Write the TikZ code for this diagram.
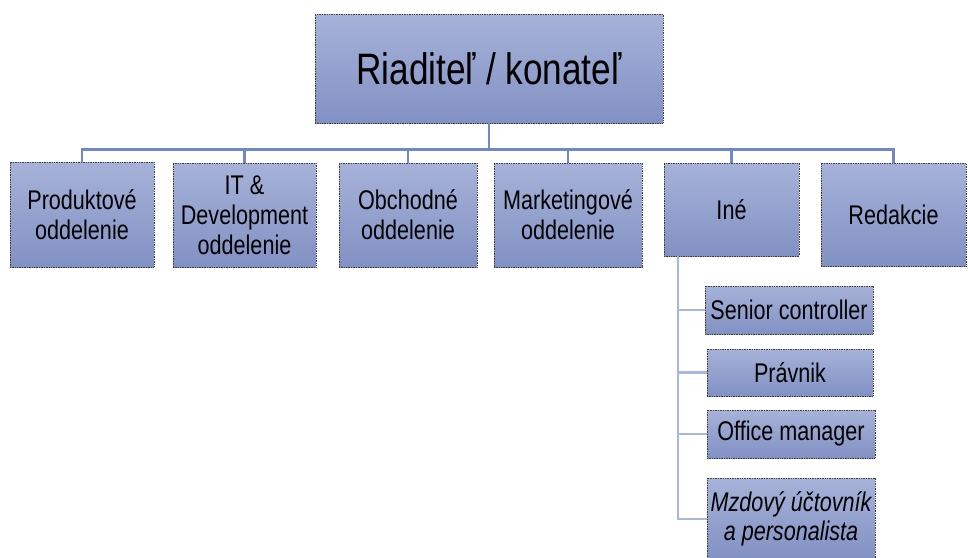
\documentclass[tikz,border=0pt]{standalone}
\usepackage{fontspec}
\setmainfont{Liberation Sans}[FakeStretch=0.8]
\usepackage{tikz}
\usetikzlibrary{positioning,calc}
\definecolor{boxtop}{RGB}{166,178,216}
\definecolor{boxbot}{RGB}{130,145,196}
\definecolor{linedark}{RGB}{112,136,202}
\definecolor{linelight}{RGB}{168,182,226}
\tikzstyle{unit}=[draw=black!75,densely dotted,line width=0.7pt,top color=boxtop,bottom color=boxbot,align=center,inner sep=2pt,font=\fontsize{27}{30}\selectfont]
\tikzstyle{conn}=[draw=linedark,line width=2.6pt]
\tikzstyle{subconn}=[draw=linelight,line width=2.6pt]

\begin{document}
\begin{tikzpicture}[x=1pt, y=-1pt]
	\useasboundingbox (0,0) rectangle (968,557);
	\node[unit, minimum width=348, minimum height=109, font=\fontsize{44}{48}\selectfont] (boss) at (489,68.5) {Riaditeľ / konateľ};
	\node[unit, minimum width=144, minimum height=105] (prod) at (82,214.5) {Produktové\\oddelenie};
	\node[unit, minimum width=143, minimum height=104] (it) at (244.5,215) {IT \&\\Development\\oddelenie};
	\node[unit, minimum width=138, minimum height=104] (obch) at (408,215) {Obchodné\\oddelenie};
	\node[unit, minimum width=148, minimum height=104] (mark) at (568,215) {Marketingové\\oddelenie};
	\node[unit, minimum width=135, minimum height=93] (ine) at (731.5,209.5) {Iné};
	\node[unit, minimum width=145, minimum height=103] (red) at (893.5,214.5) {Redakcie};
	\node[unit, minimum width=168, minimum height=48] (senior) at (789,310) {Senior controller};
	\node[unit, minimum width=166, minimum height=47] (pravnik) at (790,372.5) {Právnik};
	\node[unit, minimum width=168, minimum height=48] (office) at (791,434) {Office manager};
	\node[unit, minimum width=168, minimum height=82, font=\fontsize{27}{29}\selectfont\itshape] (mzdy) at (791,519) {Mzdový účtovník\\a personalista};
	\coordinate (stem) at (678,256);
	\draw[conn] (boss.south) -- ++(0,26) -| (prod.north);
	\draw[conn] (boss.south) -- ++(0,26) -| (it.north);
	\draw[conn] (boss.south) -- ++(0,26) -| (obch.north);
	\draw[conn] (boss.south) -- ++(0,26) -| (mark.north);
	\draw[conn] (boss.south) -- ++(0,26) -| (ine.north);
	\draw[conn] (boss.south) -- ++(0,26) -| (red.north);
	\draw[subconn] (stem) |- (senior.west);
	\draw[subconn] (stem) |- (pravnik.west);
	\draw[subconn] (stem) |- (office.west);
	\draw[subconn] (stem) |- (mzdy.west);
\end{tikzpicture}
\end{document}
